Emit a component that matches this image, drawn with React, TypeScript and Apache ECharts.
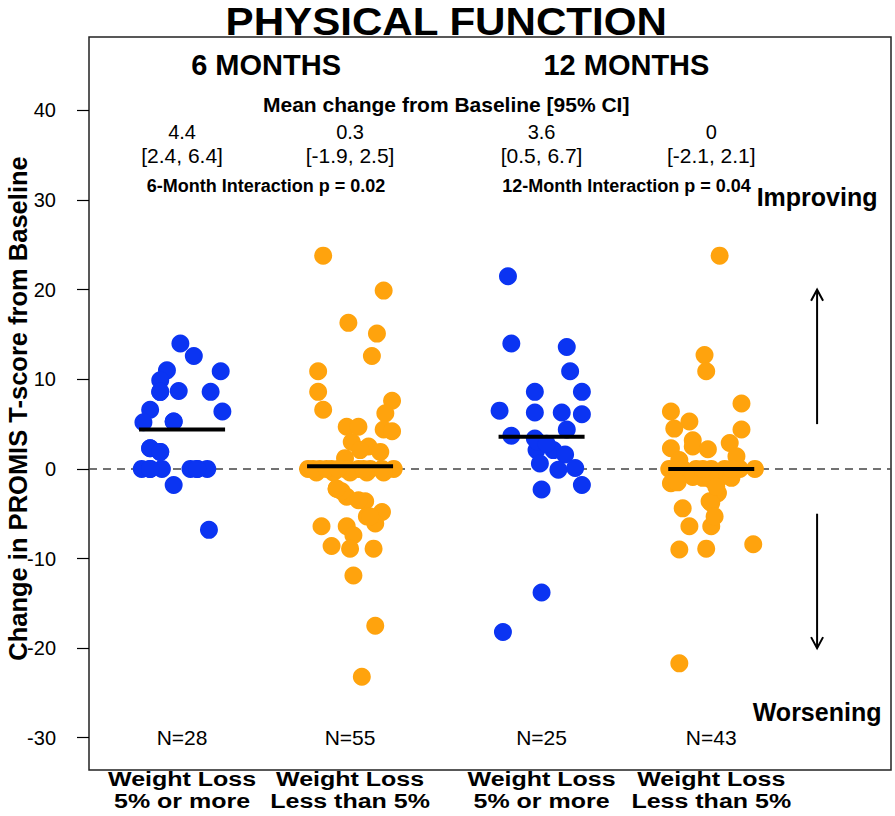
import React, { useEffect, useRef } from "react";
import * as echarts from "echarts";

// ---- data ----
const groupLabelLine1 = ["Weight Loss", "Weight Loss", "Weight Loss", "Weight Loss"];
const groupLabelLine2 = ["5% or more", "Less than 5%", "5% or more", "Less than 5%"];
const groupCenters = [1, 2, 3.14, 4.15];
const groupColors = ["#0b34f2", "#FFA30D", "#0b34f2", "#FFA30D"];
const timeHeaders = ["6 MONTHS", "12 MONTHS"];
const interactionLabels = ["6-Month Interaction", "12-Month Interaction"];
const interactionP = ["0.02", "0.04"];
const means = [4.4, 0.3, 3.6, 0];
const ciLow = [2.4, -1.9, 0.5, -2.1];
const ciHigh = [6.4, 2.5, 6.7, 2.1];
const groupN = [28, 55, 25, 43];
const yTicks = [-30, -20, -10, 0, 10, 20, 30, 40];
const yAxisTitle = "Change in PROMIS T-score from Baseline";

const g1Values = [14.0, 12.6, 11.0, 10.9, 9.9, 8.6, 8.7, 8.6, 6.6, 6.4, 5.2, 5.3, 2.3, 1.9, 0, 0, 0, 0, 0, 0, -1.8, -6.8, 0, 0, 8.6, 5.3, 2.3, 1.9];
const g1Jitter = [-0.01, 0.07, -0.09, 0.23, -0.13, -0.13, -0.02, 0.17, -0.19, 0.24, -0.23, -0.05, -0.19, -0.13, -0.24, -0.19, -0.12, 0.05, 0.09, 0.15, -0.05, 0.16, -0.19, 0.09, -0.13, -0.05, -0.19, -0.13];

const g2Values = [23.8, 19.9, 16.3, 15.1, 12.6, 10.9, 8.6, 6.6, 7.6, 6.2, 4.7, 4.7, 4.4, 4.2, 3.0, 2.5, 1.9, 2.1, 1.2, 0, 0, 0, 0, 0, 0, 0, 0, -2.2, -3.1, -3.6, -4.8, -5.3, -6.1, -6.4, -6.4, -7.4, -8.6, -8.9, -8.9, -11.9, -17.5, -23.2, -0.4, -0.4, -0.4, -0.4, -0.4, -2.5, -3.5, -5.3, -2.2, 0, 0, 0, 0];
const g2Jitter = [-0.16, 0.2, -0.01, 0.16, 0.13, -0.19, -0.19, -0.16, 0.25, 0.21, -0.02, 0.05, 0.2, 0.25, 0.01, 0.11, 0.18, 0.06, -0.03, -0.25, -0.18, -0.11, -0.03, 0.05, 0.12, 0.19, 0.26, -0.08, -0.02, 0.09, 0.19, 0.1, 0.15, -0.17, -0.02, 0.02, -0.11, 0.0, 0.14, 0.02, 0.15, 0.07, -0.2, -0.1, 0, 0.1, 0.2, -0.05, 0.05, 0.12, -0.08, -0.22, -0.14, -0.07, 0.08];

const g3Values = [21.5, 14.0, 13.6, 10.9, 8.6, 8.6, 6.5, 6.3, 6.3, 6.1, 4.4, 3.7, 3.4, 2.1, 2.1, 1.6, 0.6, -0.1, 0.1, -1.8, -2.3, -13.8, -18.2, 3.0, 2.8];
const g3Jitter = [-0.2, -0.18, 0.15, 0.17, -0.04, 0.24, -0.25, -0.04, 0.12, 0.24, 0.15, -0.18, -0.04, -0.03, 0.07, 0.14, -0.01, 0.1, 0.2, 0.24, 0.0, 0.0, -0.23, -0.02, 0.03];

const g4Values = [23.8, 12.7, 10.9, 7.3, 6.4, 5.3, 4.5, 4.4, 3.2, 2.5, 2.2, 2.9, 2.3, 1.4, 1.0, 0, 0, 0, 0, 0, 0, 0, -1.6, -0.9, -2.7, -3.6, -4.4, -3.8, -6.4, -6.4, -5.3, -9.0, -8.9, -8.4, -21.7, -1, -1, -1, -1.5, -1.2, -2, 0, 0];
const g4Jitter = [0.05, -0.04, -0.03, 0.18, -0.24, -0.13, -0.22, 0.18, -0.11, -0.11, -0.02, 0.11, -0.24, 0.15, -0.19, -0.25, -0.17, -0.09, 0.0, 0.08, 0.17, 0.26, -0.24, -0.11, 0.04, -0.01, -0.17, 0.0, -0.13, 0.0, 0.02, -0.19, -0.03, 0.25, -0.19, -0.05, 0.05, 0.12, -0.2, 0.0, 0.03, -0.05, 0.12];

const groupValues = [g1Values, g2Values, g3Values, g4Values];
const groupJitter = [g1Jitter, g2Jitter, g3Jitter, g4Jitter];

const arrowStarts = [5, -5];
const arrowEnds = [20, -20];
const directionLabels = ["Improving", "Worsening"];

// ---- layout constants ----
const X_MIN = 0.446;
const X_MAX = 5.22;
const Y_MIN = -33.6;
const Y_MAX = 48.2;
const MEAN_HALF = 0.256;
const ARROW_X = 4.78;
const FONT = "'Liberation Sans', Arial, Helvetica, sans-serif";

export default function App() {
  const ref = useRef<HTMLDivElement>(null);

  useEffect(() => {
    if (!ref.current) return;
    const chart = echarts.init(ref.current, null, { renderer: "svg" });

    const scatterSeries = groupValues.map((vals, g) => ({
      type: "scatter",
      name: "g" + g,
      data: vals.map((v, i) => [groupCenters[g] + groupJitter[g][i], v]),
      symbol: "circle",
      symbolSize: 18,
      itemStyle: { color: groupColors[g], opacity: 1 },
      z: 3,
      silent: true,
    }));

    const meanSeries = means.map((m, g) => ({
      type: "line",
      data: [
        [groupCenters[g] - MEAN_HALF, m],
        [groupCenters[g] + MEAN_HALF, m],
      ],
      symbol: "none",
      lineStyle: { color: "#000", width: 4 },
      z: 4,
      silent: true,
    }));

    const option: any = {
      animation: false,
      backgroundColor: "#fff",
      textStyle: { fontFamily: FONT },
      grid: {
        left: 89,
        right: 4,
        top: 37,
        bottom: 46,
        show: true,
        borderColor: "#222",
        borderWidth: 1.5,
        backgroundColor: "transparent",
        containLabel: false,
        outerBoundsMode: "none",
      },
      xAxis: {
        type: "value",
        min: X_MIN,
        max: X_MAX,
        splitLine: { show: false },
        axisLine: { show: false },
        axisTick: { show: false },
        axisLabel: { show: false },
      },
      yAxis: {
        type: "value",
        min: Y_MIN,
        max: Y_MAX,
        splitLine: { show: false },
        axisLine: { show: false },
        axisTick: {
          show: true,
          customValues: yTicks,
          length: 12,
          lineStyle: { color: "#000", width: 1.2 },
        },
        axisLabel: {
          show: true,
          customValues: yTicks,
          margin: 33,
          fontSize: 20,
          color: "#000",
          fontFamily: FONT,
        },
      },
      series: [
        {
          type: "line",
          data: [
            [X_MIN, 0],
            [X_MAX, 0],
          ],
          symbol: "none",
          lineStyle: { color: "#444", width: 1.5, type: [8, 6] },
          z: 1,
          silent: true,
        },
        ...scatterSeries,
        ...meanSeries,
        {
          type: "custom",
          data: arrowStarts.map((s, i) => [ARROW_X, s, arrowEnds[i]]),
          dimensions: ["x", "y", "y2"],
          encode: { x: 0, y: [1, 2] },
          z: 5,
          silent: true,
          renderItem: (params: any, api: any) => {
            const x = api.value(0);
            const p1 = api.coord([x, api.value(1)]);
            const p2 = api.coord([x, api.value(2)]);
            const dir = p2[1] < p1[1] ? -1 : 1;
            return {
              type: "group",
              children: [
                {
                  type: "line",
                  shape: { x1: p1[0], y1: p1[1], x2: p2[0], y2: p2[1] },
                  style: { stroke: "#000", lineWidth: 2 },
                },
                {
                  type: "polyline",
                  shape: {
                    points: [
                      [p2[0] - 6, p2[1] - dir * 11],
                      [p2[0], p2[1]],
                      [p2[0] + 6, p2[1] - dir * 11],
                    ],
                  },
                  style: { stroke: "#000", lineWidth: 2, fill: "none" },
                },
              ],
            };
          },
        },
      ],
    };

    chart.setOption(option);

    // ---- text annotations positioned through the axes ----
    const toPx = (x: number, y: number) =>
      chart.convertToPixel({ xAxisIndex: 0, yAxisIndex: 0 }, [x, y]) as number[];
    const mid1 = (groupCenters[0] + groupCenters[1]) / 2;
    const mid2 = (groupCenters[2] + groupCenters[3]) / 2;
    const midAll = (mid1 + mid2) / 2;

    const textAt = (
      px: number,
      py: number,
      text: string,
      size: number,
      bold: boolean,
      scaleX = 1,
      rotation = 0
    ) => ({
      type: "text",
      x: px,
      y: py,
      scaleX,
      rotation,
      z: 10,
      silent: true,
      style: {
        text,
        textAlign: "center",
        textVerticalAlign: "middle",
        font: `${bold ? "bold " : ""}${size}px ${FONT}`,
        fill: "#000",
      },
    });
    const txt = (x: number, y: number, text: string, size: number, bold: boolean, scaleX = 1) => {
      const p = toPx(x, y);
      return textAt(p[0], p[1], text, size, bold, scaleX);
    };

    const graphics: any[] = [];
    const titleX = toPx(midAll, 0)[0];
    graphics.push(textAt(titleX, 22, "PHYSICAL FUNCTION", 39, true, 1.08));
    timeHeaders.forEach((t, i) => graphics.push(txt(i === 0 ? mid1 : mid2, 45.1, t, 29, true)));
    graphics.push(txt(midAll, 40.7, "Mean change from Baseline [95% CI]", 21, true));
    means.forEach((m, g) => {
      graphics.push(txt(groupCenters[g], 37.6, String(m), 20, false));
      graphics.push(txt(groupCenters[g], 35.0, `[${ciLow[g]}, ${ciHigh[g]}]`, 21, false));
      graphics.push(txt(groupCenters[g], -30, `N=${groupN[g]}`, 21, false));
    });
    interactionLabels.forEach((t, i) =>
      graphics.push(txt(i === 0 ? mid1 : mid2, 31.6, `${t} p = ${interactionP[i]}`, 18, true))
    );
    graphics.push(txt(ARROW_X, 30.3, directionLabels[0], 25, true));
    graphics.push(txt(ARROW_X, -27.1, directionLabels[1], 25, true));

    // category labels under the box
    const boxBottom = toPx(X_MIN, Y_MIN)[1];
    groupCenters.forEach((c, g) => {
      const px = toPx(c, 0)[0];
      graphics.push(textAt(px, boxBottom + 9, groupLabelLine1[g], 20, true, 1.25));
      graphics.push(textAt(px, boxBottom + 31, groupLabelLine2[g], 20, true, 1.25));
    });

    // y-axis title, rotated
    const boxTop = toPx(X_MIN, Y_MAX)[1];
    graphics.push(textAt(18, (boxTop + boxBottom) / 2 + 5, yAxisTitle, 25.5, true, 1, Math.PI / 2));

    chart.setOption({ graphic: graphics });

    return () => chart.dispose();
  }, []);

  return (
    <div
      ref={ref}
      style={{ position: "fixed", left: 0, top: 0, width: 895, height: 816, background: "#fff" }}
    />
  );
}
